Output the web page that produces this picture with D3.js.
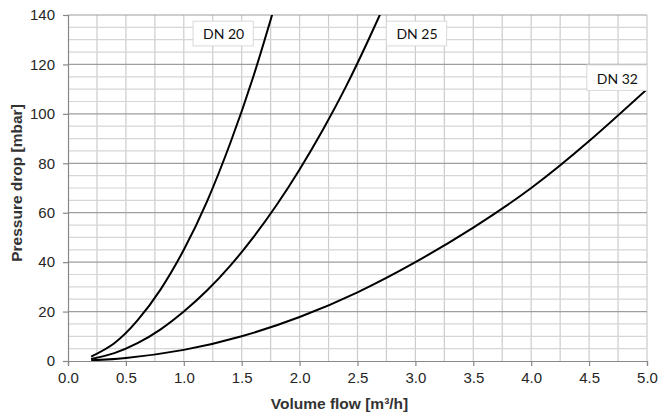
<!DOCTYPE html>
<html>
<head>
<meta charset="utf-8">
<script src="https://cdn.jsdelivr.net/npm/d3@7"></script>
<style>
  html, body { margin: 0; padding: 0; background: #fff; }
  svg { display: block; }
</style>
</head>
<body>
<svg id="chart" width="659" height="416"></svg>
<script>
// ---- data ----
const seriesNames = ["DN 20", "DN 25", "DN 32"];
const flowDN20 = [0.2, 0.4, 0.6, 0.8, 1.0, 1.2, 1.4, 1.6, 1.8];
const dropDN20 = [1.8, 7.2, 16.4, 29.0, 45.0, 64.5, 88.0, 115.0, 146.0];
const flowDN25 = [0.2, 0.4, 0.6, 0.8, 1.0, 1.2, 1.4, 1.6, 1.8, 2.0, 2.2, 2.4, 2.6, 2.8];
const dropDN25 = [0.8, 3.2, 7.2, 12.8, 20.0, 28.5, 38.5, 50.0, 63.0, 77.5, 93.5, 111.0, 130.5, 151.0];
const flowDN32 = [0.2, 0.5, 1.0, 1.5, 2.0, 2.5, 3.0, 3.5, 4.0, 4.5, 5.0];
const dropDN32 = [0.3, 1.2, 4.5, 10.0, 17.8, 27.8, 40.0, 54.0, 70.0, 89.0, 110.0];
const xTicks = [0.0, 0.5, 1.0, 1.5, 2.0, 2.5, 3.0, 3.5, 4.0, 4.5, 5.0];
const yTicks = [0, 20, 40, 60, 80, 100, 120, 140];
const xTitle = "Volume flow [m\u00B3/h]";
const yTitle = "Pressure drop [mbar]";

// ---- layout ----
const W = 659, H = 416;
const m = { left: 68, right: 12, top: 15, bottom: 55 };
const svg = d3.select("#chart");
const x = d3.scaleLinear().domain([0, 5]).range([m.left, W - m.right]);
const y = d3.scaleLinear().domain([0, 140]).range([H - m.bottom, m.top]);

// grid
const g = svg.append("g");
g.selectAll("line.vg").data(d3.range(0.25, 5.001, 0.25))
  .join("line")
  .attr("x1", d => x(d)).attr("x2", d => x(d))
  .attr("y1", y(0)).attr("y2", y(140))
  .attr("stroke", "#cccccc").attr("stroke-width", 1.2);
g.selectAll("line.hm").data(d3.range(5, 140, 5).filter(v => v % 20 !== 0))
  .join("line")
  .attr("x1", x(0)).attr("x2", x(5))
  .attr("y1", d => y(d)).attr("y2", d => y(d))
  .attr("stroke", "#d6d6d6").attr("stroke-width", 1.2);
g.selectAll("line.hM").data(yTicks.filter(v => v > 0))
  .join("line")
  .attr("x1", x(0)).attr("x2", x(5))
  .attr("y1", d => y(d)).attr("y2", d => y(d))
  .attr("stroke", "#9e9e9e").attr("stroke-width", 1.2);

// axes
const fontTick = "'Liberation Sans', Arial, sans-serif";
const xAxis = svg.append("g")
  .attr("transform", `translate(0,${y(0)})`)
  .call(d3.axisBottom(x).tickValues(xTicks).tickFormat(d3.format(".1f")).tickSizeOuter(0).tickSize(5).tickPadding(6));
const yAxis = svg.append("g")
  .attr("transform", `translate(${x(0)},0)`)
  .call(d3.axisLeft(y).tickValues(yTicks).tickSizeOuter(0).tickSize(5).tickPadding(8));
[xAxis, yAxis].forEach(a => {
  a.select(".domain").attr("stroke", "#888").attr("stroke-width", 1.2);
  a.selectAll(".tick line").attr("stroke", "#888").attr("stroke-width", 1.2);
  a.selectAll(".tick text").attr("fill", "#262626").style("font-family", fontTick).style("font-size", "15px");
});

// curves
svg.append("clipPath").attr("id", "plotclip")
  .append("rect").attr("x", x(0)).attr("y", y(140)).attr("width", x(5) - x(0)).attr("height", y(0) - y(140));
const line = d3.line().x(d => x(d[0])).y(d => y(d[1])).curve(d3.curveNatural);
const series = [
  d3.zip(flowDN20, dropDN20),
  d3.zip(flowDN25, dropDN25),
  d3.zip(flowDN32, dropDN32)
];
svg.append("g").attr("clip-path", "url(#plotclip)")
  .selectAll("path").data(series).join("path")
  .attr("d", line).attr("fill", "none").attr("stroke", "#000").attr("stroke-width", 2);

// labels
const labelBoxes = [
  { name: seriesNames[0], x0: 1.08, x1: 1.6, y0: 137.5, y1: 127.5 },
  { name: seriesNames[1], x0: 2.75, x1: 3.27, y0: 137.5, y1: 127.5 },
  { name: seriesNames[2], x0: 4.48, x1: 5.0, y0: 119.8, y1: 109.5 }
];
const lg = svg.append("g").selectAll("g").data(labelBoxes).join("g");
lg.append("rect")
  .attr("x", d => x(d.x0)).attr("y", d => y(d.y0))
  .attr("width", d => x(d.x1) - x(d.x0)).attr("height", d => y(d.y1) - y(d.y0))
  .attr("fill", "#fff").attr("stroke", "#d9d9d9").attr("stroke-width", 1);
lg.append("text")
  .attr("x", d => x(d.x0) + 10).attr("y", d => y(d.y1) - 6.5)
  .attr("font-family", "Lato, 'Open Sans', sans-serif").attr("font-size", 14)
  .attr("fill", "#111")
  .text(d => d.name);

// axis titles
svg.append("text")
  .attr("x", 339.5).attr("y", 409)
  .attr("text-anchor", "middle")
  .attr("font-family", fontTick).attr("font-weight", "bold").attr("font-size", 15.5)
  .attr("fill", "#333")
  .text(xTitle);
svg.append("text")
  .attr("transform", `translate(22,183) rotate(-90)`)
  .attr("text-anchor", "middle")
  .attr("font-family", fontTick).attr("font-weight", "bold").attr("font-size", 15.5)
  .attr("fill", "#333")
  .text(yTitle);
</script>
</body>
</html>
